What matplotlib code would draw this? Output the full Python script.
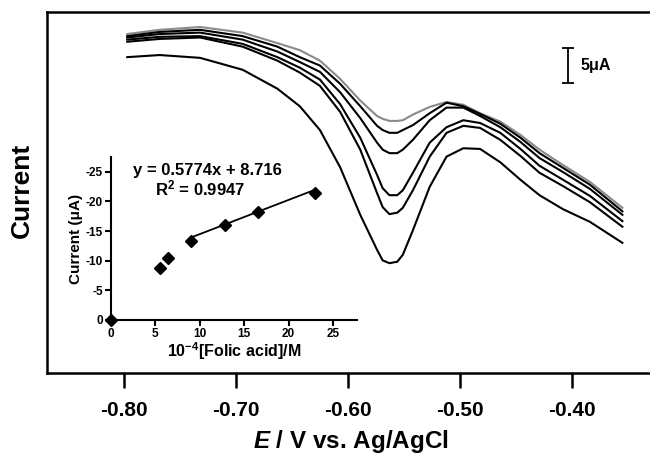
import numpy as np
import matplotlib
matplotlib.use("Agg")
import matplotlib.pyplot as plt

plt.rcParams['font.family'] = ['Liberation Sans', 'DejaVu Sans']
plt.rcParams['font.weight'] = 'bold'
plt.rcParams['axes.unicode_minus'] = False
plt.rcParams['mathtext.fontset'] = 'custom'
plt.rcParams['mathtext.rm'] = 'Liberation Sans:bold'
plt.rcParams['mathtext.it'] = 'Liberation Sans:italic:bold'
plt.rcParams['mathtext.bf'] = 'Liberation Sans:bold'

# potential (V vs Ag/AgCl)
potential = [-0.797, -0.768, -0.732, -0.694, -0.663, -0.643, -0.625, -0.607, -0.589, -0.574,
             -0.569, -0.563, -0.556, -0.551, -0.542, -0.527, -0.512, -0.497, -0.482, -0.464,
             -0.446, -0.429, -0.408, -0.384, -0.355]

# currents (uA, arbitrary offset) for each voltammogram
cur1 = [48.4, 49.0, 49.4, 48.6, 47.1, 46.1, 44.6, 42.0, 38.9, 36.7, 36.3, 36.0, 36.0, 36.1,
        36.9, 38.0, 38.7, 38.3, 37.1, 35.9, 34.0, 31.9, 29.7, 27.3, 23.6]
cur2 = [48.1, 48.7, 49.0, 48.1, 46.6, 45.1, 43.9, 41.3, 38.1, 35.3, 34.7, 34.3, 34.3, 34.7,
        35.4, 37.1, 38.6, 38.1, 37.0, 35.6, 33.6, 31.4, 29.3, 26.9, 23.1]
cur3 = [47.9, 48.4, 48.6, 47.6, 45.9, 44.4, 43.0, 40.1, 36.4, 32.9, 31.9, 31.4, 31.4, 31.9,
        33.3, 36.1, 37.9, 37.9, 36.7, 35.1, 33.0, 30.7, 28.7, 26.3, 22.6]
cur4 = [47.6, 48.0, 48.1, 47.0, 45.1, 43.6, 41.9, 38.4, 33.6, 28.3, 26.4, 25.4, 25.4, 26.1,
        28.6, 32.9, 35.1, 36.1, 35.7, 34.3, 32.0, 29.6, 27.6, 25.3, 21.7]
cur5 = [47.3, 47.7, 47.9, 46.6, 44.6, 42.9, 41.0, 37.3, 31.9, 25.7, 23.7, 22.7, 22.9, 23.6,
        26.1, 30.9, 34.3, 35.3, 35.0, 33.3, 31.0, 28.6, 26.7, 24.4, 20.9]
cur6 = [45.1, 45.4, 45.0, 43.3, 40.6, 38.1, 34.7, 29.4, 22.6, 17.6, 16.1, 15.7, 15.9, 16.9,
        20.4, 26.6, 30.9, 32.1, 32.0, 30.1, 27.6, 25.4, 23.4, 21.6, 18.6]
curves = [cur1, cur2, cur3, cur4, cur5, cur6]
colors = ['#8a8a8a', 'black', 'black', 'black', 'black', 'black']

# inset calibration data
conc = [0, 5.5, 6.45, 9.0, 12.8, 16.6, 23.0]
peak = [0, -8.7, -10.45, -13.3, -16.1, -18.2, -21.4]
fit_x = [9.0, 23.0]
slope, intercept = 0.5774, 8.716

fig = plt.figure(figsize=(6.5, 4.54), dpi=100)
ax = fig.add_axes([0.072, 0.178, 0.935, 0.796])
for c, col in zip(curves, colors):
    ax.plot(potential, c, color=col, lw=1.5, solid_joinstyle='round')

ax.set_xlim(-0.8688, -0.3263)
ax.set_ylim(0, 51.57)
ax.set_xticks([-0.80, -0.70, -0.60, -0.50, -0.40])
ax.set_xticklabels(['-0.80', '-0.70', '-0.60', '-0.50', '-0.40'])
ax.set_yticks([])
for s in ax.spines.values():
    s.set_linewidth(1.8)
ax.tick_params(axis='x', direction='out', length=11, width=1.8, pad=9, labelsize=15)

# scale bar
ax.errorbar([-0.404], [43.9], yerr=[2.5], fmt='none', ecolor='black', elinewidth=1.3,
            capsize=4, capthick=1.3)
ax.text(-0.392, 43.9, '5μA', fontsize=11.5, fontweight='bold', va='center', ha='left')

fig.text(0.034, 0.58, 'Current', rotation=90, fontsize=19, fontweight='bold',
         ha='center', va='center')
fig.text(0.54, 0.014, '$\\mathit{E}$ / V vs. Ag/AgCl', fontsize=17.5, fontweight='bold',
         ha='center', va='baseline')

# inset
ins = fig.add_axes([0.1708, 0.2952, 0.3785, 0.359])
ins.patch.set_visible(False)
ins.plot(conc, peak, 'D', color='black', markersize=6.5, clip_on=False, zorder=3)
ins.plot(fit_x, [-(slope * x + intercept) for x in fit_x], color='black', lw=1.3)
ins.set_xlim(0, 27.7)
ins.set_ylim(0, -27.5)
ins.set_xticks([0, 5, 10, 15, 20, 25])
ins.set_yticks([0, -5, -10, -15, -20, -25])
ins.spines['top'].set_visible(False)
ins.spines['right'].set_visible(False)
ins.spines['left'].set_linewidth(1.5)
ins.spines['bottom'].set_linewidth(1.5)
ins.tick_params(direction='out', length=4, width=1.5, labelsize=8.5, pad=2)
ins.set_xlabel('10$^{-4}$[Folic acid]/M', fontsize=11.5, fontweight='bold', labelpad=0)
ins.set_ylabel('Current (μA)', fontsize=11, fontweight='bold', labelpad=2)
ins.text(0.39, 0.92, 'y = 0.5774x + 8.716', transform=ins.transAxes, fontsize=12,
         fontweight='bold', ha='center', va='center')
ins.text(0.36, 0.81, 'R$^{2}$ = 0.9947', transform=ins.transAxes, fontsize=12,
         fontweight='bold', ha='center', va='center')

fig.savefig('out.png', dpi=100)
